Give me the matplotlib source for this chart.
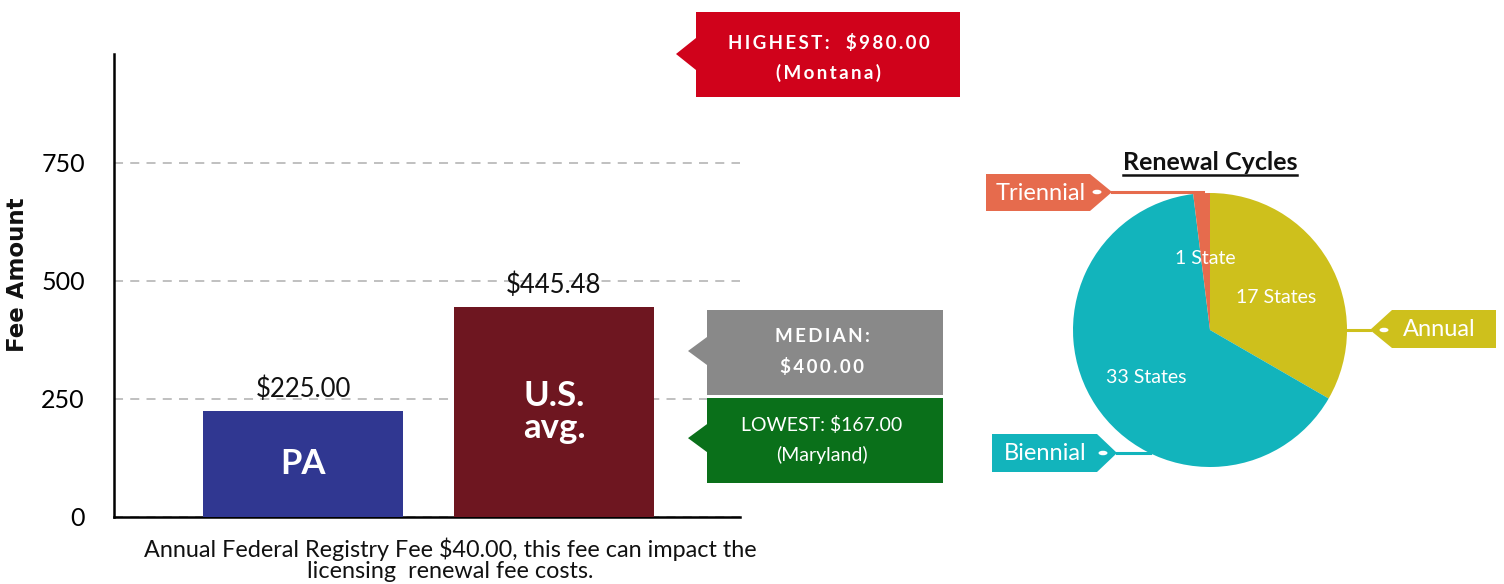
import matplotlib
matplotlib.use('Agg')
import matplotlib.pyplot as plt
from matplotlib.patches import Polygon, Ellipse
from matplotlib.transforms import Affine2D
from matplotlib.lines import Line2D
import numpy as np

plt.rcParams['font.family'] = ['Lato', 'DejaVu Sans']

# ---------------- data ----------------
categories = ['PA', 'U.S.\navg.']
fees = [225.00, 445.48]
value_labels = ['$225.00', '$445.48']
bar_colors = ['#303791', '#6E1620']
y_ticks = [0, 250, 500, 750]
y_max = 980

highest_fee = 980.00
highest_state = 'Montana'
median_fee = 400.00
lowest_fee = 167.00
lowest_state = 'Maryland'

cycles = ['Annual', 'Biennial', 'Triennial']
state_counts = [17, 33, 1]
cycle_colors = ['#CEC01C', '#12B4BC', '#E66B4D']
count_labels = ['17 States', '33 States', '1 State']

caption = ('Annual Federal Registry Fee $40.00, this fee can impact the\n'
           'licensing  renewal fee costs.')

# ---------------- figure ----------------
W, H = 1504, 584
fig = plt.figure(figsize=(W / 100, H / 100), dpi=100)
PX = Affine2D().scale(1 / W, -1 / H).translate(0, 1) + fig.transFigure


def px_axes(l, t, r, b):
    return fig.add_axes([l / W, 1 - b / H, (r - l) / W, (b - t) / H])


def spaced(s):
    return '\u2009'.join(s)


# ---------------- bar chart ----------------
ax = px_axes(114, 54, 740, 517)
xpos = np.arange(len(categories))
ax.bar(xpos, fees, width=0.8, color=bar_colors, zorder=3)
ax.set_xlim(-0.753, 1.741)
ax.set_ylim(0, y_max)
ax.set_yticks(y_ticks)
ax.tick_params(axis='y', length=0, pad=21, labelsize=18)
ax.set_xticks([])
for s in ['top', 'right']:
    ax.spines[s].set_visible(False)
ax.spines['left'].set_linewidth(1.8)
ax.spines['bottom'].set_linewidth(1.8)
ax.yaxis.grid(True, linestyle=(0, (5, 4)), color='#BBBBBB', linewidth=1.3)
ax.set_axisbelow(True)

for xi, f, lab, cat in zip(xpos, fees, value_labels, categories):
    ax.annotate(lab, (xi, f), xytext=(0, 6), textcoords='offset points',
                ha='center', va='bottom', fontsize=18.5, color='#111111')
    ax.text(xi, f / 2, cat, ha='center', va='center', color='white',
            fontsize=25, fontweight='bold', linespacing=1.02)

fig.text(18, 275, 'Fee Amount', transform=PX, rotation=90, ha='center',
         va='center', fontsize=16.5, fontweight='bold', color='#111111',
         family='DejaVu Sans')

fig.text(450, 560, caption, transform=PX, ha='center', va='center',
         fontsize=16.8, linespacing=1.0, color='#111111')


def y_to_px(v):
    return H - ax.transData.transform((0, v))[1]


def callout(left, top, right, bottom, tip_x, tip_y, half, color):
    pts = [(left, top), (right, top), (right, bottom), (left, bottom),
           (left, tip_y + half), (tip_x, tip_y), (left, tip_y - half)]
    fig.patches.append(Polygon(pts, closed=True, transform=PX,
                               facecolor=color, edgecolor='none'))


callout(696, 12, 960, 97, 676, y_to_px(highest_fee), 16, '#D0021B')
fig.text(829, 43, spaced(f'HIGHEST:  ${highest_fee:,.2f}'), transform=PX,
         ha='center', va='center', fontsize=13.5, fontweight='bold', color='white')
fig.text(829, 73, spaced(f'({highest_state})'), transform=PX,
         ha='center', va='center', fontsize=13.5, fontweight='bold', color='white')

callout(707, 310, 943, 395, 688, 351, 14, '#898989')
fig.text(822, 337, spaced('MEDIAN:'), transform=PX,
         ha='center', va='center', fontsize=13.5, fontweight='bold', color='white')
fig.text(822, 367, spaced(f'${median_fee:,.2f}'), transform=PX,
         ha='center', va='center', fontsize=13.5, fontweight='bold', color='white')

callout(707, 398, 943, 483, 688, y_to_px(lowest_fee), 14, '#0A701A')
fig.text(822, 425, f'LOWEST: ${lowest_fee:,.2f}', transform=PX,
         ha='center', va='center', fontsize=14, color='white')
fig.text(822, 455, f'({lowest_state})', transform=PX,
         ha='center', va='center', fontsize=14, color='white')

# ---------------- pie chart ----------------
ax2 = px_axes(1073, 193, 1347, 467)
wedges, _ = ax2.pie(state_counts, colors=cycle_colors, startangle=90,
                    counterclock=False, wedgeprops=dict(linewidth=0))
ax2.set_xlim(-1, 1)
ax2.set_ylim(-1, 1)
ax2.set_aspect('equal')
for w, lab in zip(wedges, count_labels):
    th = np.deg2rad((w.theta1 + w.theta2) / 2)
    ax2.text(0.56 * np.cos(th), 0.56 * np.sin(th) - 0.04, lab, ha='center',
             va='center', color='white', fontsize=14)

fig.text(1210, 163, 'Renewal Cycles', transform=PX, ha='center',
         va='center', fontsize=18, fontweight='bold', color='#111111')
fig.lines.append(Line2D([1123, 1297], [175, 175], transform=PX,
                        color='#111111', linewidth=1.8))


def tag(pts, color, text, tx, ty, line, dot):
    fig.patches.append(Polygon(pts, closed=True, transform=PX,
                               facecolor=color, edgecolor='none'))
    fig.lines.append(Line2D(line[0], line[1], transform=PX, color=color,
                            linewidth=2.2))
    fig.patches.append(Ellipse(dot, 9, 4.5, transform=PX, facecolor='white',
                               edgecolor='none'))
    fig.text(tx, ty, text, transform=PX, ha='center', va='center',
             fontsize=17, color='white')


tag([(986, 174), (1090, 174), (1112, 192), (1090, 211), (986, 211)],
    cycle_colors[2], cycles[2], 1041, 193,
    ([1112, 1203], [192, 192]), (1097, 192))
tag([(1496, 310), (1392, 310), (1370, 330), (1392, 348), (1496, 348)],
    cycle_colors[0], cycles[0], 1439, 329,
    ([1347, 1370], [330, 330]), (1384, 330))
tag([(992, 434), (1097, 434), (1117, 453), (1097, 472), (992, 472)],
    cycle_colors[1], cycles[1], 1045, 453,
    ([1117, 1150], [453, 453]), (1103, 453))

fig.savefig('out.png', dpi=100)
